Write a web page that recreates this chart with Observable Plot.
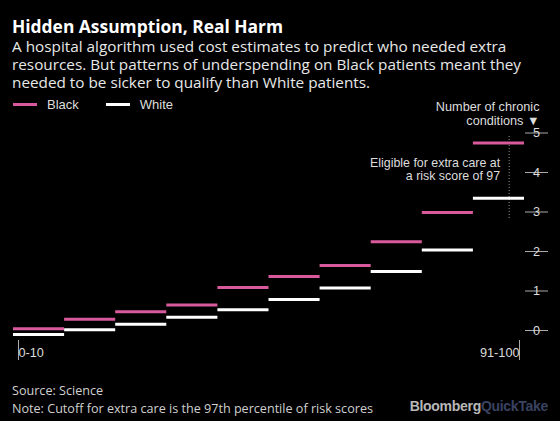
<!DOCTYPE html>
<html><head><meta charset="utf-8">
<script src="https://cdn.jsdelivr.net/npm/d3@7"></script>
<script src="https://cdn.jsdelivr.net/npm/@observablehq/plot@0.6"></script>
<style>
body{margin:0;background:#000;}
#wrap{position:relative;width:560px;height:421px;background:#000;overflow:hidden;}
#title{position:absolute;left:12px;top:16px;font-family:"Open Sans",sans-serif;font-weight:700;font-size:17.4px;line-height:20px;color:#fff;white-space:nowrap;}
#sub{position:absolute;left:12px;top:37px;font-family:"Open Sans",sans-serif;font-size:15.3px;line-height:18px;color:#e8e8e8;width:545px;}
#legend{position:absolute;left:13px;top:97px;font-family:"Liberation Sans",Arial,sans-serif;font-size:13px;color:#ddd;display:flex;align-items:center;}
.sw{display:inline-block;width:24px;height:3px;margin-right:10px;}
.item{display:flex;align-items:center;margin-right:27px;}
#chart{position:absolute;left:0;top:90px;}
.foot{position:absolute;left:12px;font-family:"Open Sans",sans-serif;font-size:12.6px;line-height:13px;color:#d0d0d0;white-space:nowrap;}
#logo{position:absolute;right:12px;top:398px;font-family:"Liberation Sans",Arial,sans-serif;font-weight:700;font-size:14px;letter-spacing:-0.3px;}
</style></head><body><div id="wrap">
<div id="title">Hidden Assumption, Real Harm</div>
<div id="sub">A hospital algorithm used cost estimates to predict who needed extra resources. But patterns of underspending on Black patients meant they needed to be sicker to qualify than White patients.</div>
<div id="legend"></div>
<div id="chart"></div>
<div class="foot" style="top:384px">Source: Science</div>
<div class="foot" style="top:402px">Note: Cutoff for extra care is the 97th percentile of risk scores</div>
<div id="logo"><span style="color:#b8b8b8">Bloomberg</span><span style="color:#3a4262">QuickTake</span></div>
</div>
<script>
// ---- data ----
const binStart = [0, 10, 20, 30, 40, 50, 60, 70, 80, 90];
const binEnd   = [10, 20, 30, 40, 50, 60, 70, 80, 90, 100];
const blackConditions = [0.30, 0.54, 0.73, 0.90, 1.34, 1.62, 1.90, 2.50, 3.24, 5.00];
const whiteConditions = [0.15, 0.27, 0.41, 0.59, 0.78, 1.04, 1.33, 1.75, 2.29, 3.60];
const seriesNames = ["Black", "White"];
const seriesColors = ["#d85a9c", "#ffffff"];
const yTicks = [0, 1, 2, 3, 4, 5];
const xTickValues = [0, 100];
const xTickLabels = ["0-10", "91-100"];
const cutoff = 97;
const cutoffSpan = [3.09, 5.19];
const annotationText = "Eligible for extra care at\na risk score of 97";
const annotationY = 4.33;
const axisTitle = "Number of chronic\nconditions ▼";

// ---- legend ----
const legend = document.getElementById("legend");
seriesNames.forEach((n, i) => {
  const it = document.createElement("span");
  it.className = "item";
  it.innerHTML = `<span class="sw" style="background:${seriesColors[i]}"></span>${n}`;
  legend.appendChild(it);
});

// ---- tables ----
const toRows = vals => binStart.map((s, i) => ({x1: s, x2: binEnd[i], v: vals[i]}));
const blackRows = toRows(blackConditions);
const whiteRows = toRows(whiteConditions);

const chart = Plot.plot({
  width: 560,
  height: 290,
  marginLeft: 13,
  marginRight: 36,
  marginTop: 52.5,
  marginBottom: 40,
  style: {background: "transparent", color: "#ddd", fontFamily: "'Liberation Sans', Arial, sans-serif", fontSize: "12.7px"},
  x: {domain: [0, 100]},
  y: {domain: [0, 5]},
  marks: [
    Plot.ruleX([cutoff], {y1: cutoffSpan[0], y2: cutoffSpan[1], stroke: "#999", strokeDasharray: "1,2", strokeWidth: 1}),
    Plot.ruleY(whiteRows, {x1: "x1", x2: "x2", y: "v", stroke: seriesColors[1], strokeWidth: 3}),
    Plot.ruleY(blackRows, {x1: "x1", x2: "x2", y: "v", stroke: seriesColors[0], strokeWidth: 3}),
    Plot.axisY({anchor: "right", ticks: yTicks, tickSize: 23, tickPadding: -11, textAnchor: "middle", dy: -10, stroke: "#aaa", strokeOpacity: 1, fill: "#ddd", label: null, tickFormat: d3.format("d")}),
    Plot.axisX({anchor: "bottom", ticks: [xTickValues[0]], tickSize: 20, tickPadding: -13, textAnchor: "start", dx: 5, stroke: "#aaa", strokeOpacity: 1, fill: "#ddd", label: null, tickFormat: () => xTickLabels[0]}),
    Plot.axisX({anchor: "bottom", ticks: [xTickValues[1]], tickSize: 20, tickPadding: -13, textAnchor: "end", dx: -5, stroke: "#aaa", strokeOpacity: 1, fill: "#ddd", label: null, tickFormat: () => xTickLabels[1]}),
    Plot.text([annotationText], {x: cutoff, y: annotationY, text: d => d, textAnchor: "end", dx: -9, lineHeight: 1.06, fontSize: 12.4, fill: "#ddd"}),
    Plot.text([axisTitle], {frameAnchor: "top-right", text: d => d, textAnchor: "end", lineAnchor: "bottom", dx: 15, dy: -18.5, lineHeight: 1.1, fill: "#ddd"})
  ]
});
document.getElementById("chart").appendChild(chart);
</script>
</body></html>
